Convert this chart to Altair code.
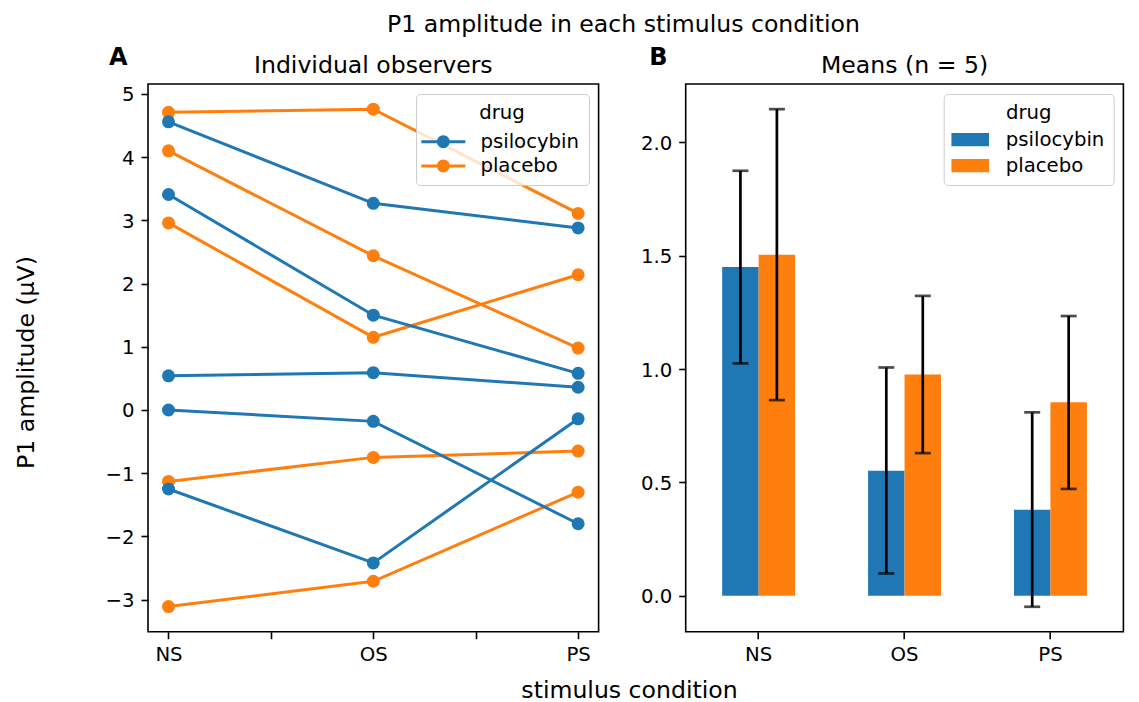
import altair as alt
import pandas as pd

# ---------------- data ----------------
conditions = ["NS", "OS", "PS"]
drugs = ["psilocybin", "placebo"]

psilocybin_obs = [
    [4.56, 3.27, 2.88],
    [3.41, 1.50, 0.58],
    [0.54, 0.59, 0.36],
    [0.00, -0.18, -1.80],
    [-1.25, -2.42, -0.14],
]
placebo_obs = [
    [4.71, 4.76, 3.11],
    [4.10, 2.44, 0.98],
    [2.96, 1.15, 2.14],
    [-1.13, -0.75, -0.65],
    [-3.11, -2.71, -1.30],
]

mean_psilocybin = [1.450, 0.551, 0.379]
mean_placebo = [1.504, 0.976, 0.853]
err_low_psilocybin = [1.025, 0.098, -0.049]
err_high_psilocybin = [1.875, 1.007, 0.809]
err_low_placebo = [0.863, 0.629, 0.471]
err_high_placebo = [2.147, 1.323, 1.234]

left_ticks = [0, 0.5, 1, 1.5, 2]
left_y_ticks = [-3, -2, -1, 0, 1, 2, 3, 4, 5]
right_y_ticks = [0.0, 0.5, 1.0, 1.5, 2.0]

# ---------------- tables ----------------
# placebo rows first so that psilocybin markers are drawn on top (as in the reference)
rows = []
for drug, obs in (("placebo", placebo_obs), ("psilocybin", psilocybin_obs)):
    for k, vals in enumerate(obs):
        for i, v in enumerate(vals):
            rows.append({"observer": f"{drug}_{k}", "drug": drug,
                         "cond": conditions[i], "pos": i, "amp": v})
ind_df = pd.DataFrame(rows)

brows = []
for drug, m, lo, hi in (("psilocybin", mean_psilocybin, err_low_psilocybin, err_high_psilocybin),
                        ("placebo", mean_placebo, err_low_placebo, err_high_placebo)):
    for i, c in enumerate(conditions):
        brows.append({"cond": c, "drug": drug, "mean": m[i], "lo": lo[i], "hi": hi[i]})
bar_df = pd.DataFrame(brows)

# ---------------- styling ----------------
W1, W2, H = 450.6, 437.7, 547.7
FT = 23.6   # 12pt
FL = 19.7   # 10pt
BLUE, ORANGE = "#1f77b4", "#ff7f0e"

axis_common = dict(grid=False, domain=False, tickSize=7, tickWidth=1.6, tickColor="black",
                   labelFontSize=FL, labelColor="black", labelFont="DejaVu Sans")

line_sym = ("M-1.26,-0.107L1.88,-0.107L1.88,0.107L-1.26,0.107Z "
            "M0.31,-0.46A0.46,0.46 0 1,1 0.31,0.46A0.46,0.46 0 1,1 0.31,-0.46Z")
rect_sym = "M-1.09,-0.475L1.6,-0.475L1.6,0.475L-1.09,0.475Z"

legend_common = dict(title="drug", orient="top-right", offset=10, padding=9,
                     strokeColor="#cccccc", cornerRadius=4, fillColor="rgba(255,255,255,0.8)",
                     titleFontSize=FL, titleFontWeight="normal", titleColor="black",
                     titleAnchor="middle", labelFontSize=FL, labelColor="black",
                     symbolSize=784, symbolStrokeWidth=0, symbolOpacity=1)

# ---------------- panel A ----------------
x_left = alt.X("pos:Q",
               scale=alt.Scale(domain=[-0.1, 2.1], nice=False, zero=False),
               axis=alt.Axis(values=left_ticks,
                             labelExpr="datum.value==0?'NS':datum.value==1?'OS':datum.value==2?'PS':''",
                             labelPadding=5.5,
                             title="stimulus condition", titleX=481, titleY=66,
                             titleBaseline="alphabetic", titleAlign="center",
                             titleFontSize=FT, titleFontWeight="normal", titleColor="black",
                             **axis_common))
y_left = alt.Y("amp:Q",
               scale=alt.Scale(domain=[-3.508, 5.158], nice=False, zero=False),
               axis=alt.Axis(values=left_y_ticks,
                             labelExpr="replace(datum.label, '-', '\u2212')",
                             labelPadding=7, labelOffset=1,
                             title="P1 amplitude (\u03bcV)", titleAngle=270,
                             titleBaseline="alphabetic", titleX=-114.8, titleY=278,
                             titleAlign="center", titleFontSize=FT,
                             titleFontWeight="normal", titleColor="black",
                             **axis_common))

color_a = alt.Scale(domain=drugs, range=[BLUE, ORANGE])
points = alt.Chart(ind_df).mark_circle(size=169, opacity=1).encode(
    x=x_left, y=y_left,
    color=alt.Color("drug:N", scale=color_a,
                    legend=alt.Legend(symbolType=line_sym, labelOffset=27.4,
                                      titlePadding=5, rowPadding=0.3, **legend_common)))
lines = alt.Chart(ind_df).mark_line(strokeWidth=3).encode(
    x=x_left, y=y_left,
    color=alt.Color("drug:N", scale=color_a),
    detail="observer:N", order="pos:Q")

letter_a = alt.Chart(pd.DataFrame({"t": ["A"]})).mark_text(
    align="left", baseline="alphabetic", fontSize=24, fontWeight="bold", color="black"
).encode(x=alt.value(-39), y=alt.value(-19.3), text="t:N")
title_a = alt.Chart(pd.DataFrame({"t": ["Individual observers"]})).mark_text(
    align="center", baseline="alphabetic", fontSize=FT, color="black"
).encode(x=alt.value(W1 / 2), y=alt.value(-11), text="t:N")

panel_a = alt.layer(points, lines, letter_a, title_a).properties(width=W1, height=H)

# ---------------- panel B ----------------
x_right = alt.X("cond:N", sort=conditions,
                scale=alt.Scale(paddingInner=0.5, paddingOuter=0.25),
                axis=alt.Axis(title=None, labelAngle=0, labelPadding=5.5, **axis_common))
x_off = alt.XOffset("drug:N", sort=drugs, scale=alt.Scale(domain=drugs))
y_scale_r = alt.Scale(domain=[-0.159, 2.258], nice=False, zero=False)
y_axis_r = alt.Axis(values=right_y_ticks, format=".1f", title=None,
                    labelPadding=7, labelOffset=1, **axis_common)

color_b = alt.Scale(domain=drugs, range=[BLUE, ORANGE])
bars = alt.Chart(bar_df).mark_bar().encode(
    x=x_right, xOffset=x_off,
    y=alt.Y("mean:Q", scale=y_scale_r, axis=y_axis_r),
    y2=alt.datum(0),
    color=alt.Color("drug:N", scale=color_b,
                    legend=alt.Legend(symbolType=rect_sym, labelOffset=25,
                                      titlePadding=3, rowPadding=2, **legend_common)))
rules = alt.Chart(bar_df).mark_rule(color="black", strokeWidth=2.7).encode(
    x=x_right, xOffset=x_off, y=alt.Y("lo:Q", scale=y_scale_r), y2="hi:Q")
caps_lo = alt.Chart(bar_df).mark_tick(color="black", thickness=2.7, size=16).encode(
    x=x_right, xOffset=x_off, y=alt.Y("lo:Q", scale=y_scale_r))
caps_hi = alt.Chart(bar_df).mark_tick(color="black", thickness=2.7, size=16).encode(
    x=x_right, xOffset=x_off, y=alt.Y("hi:Q", scale=y_scale_r))

letter_b = alt.Chart(pd.DataFrame({"t": ["B"]})).mark_text(
    align="left", baseline="alphabetic", fontSize=24, fontWeight="bold", color="black"
).encode(x=alt.value(-36.5), y=alt.value(-19.3), text="t:N")
title_b = alt.Chart(pd.DataFrame({"t": ["Means (n = 5)"]})).mark_text(
    align="center", baseline="alphabetic", fontSize=FT, color="black"
).encode(x=alt.value(W2 / 2), y=alt.value(-11), text="t:N")

panel_b = alt.layer(bars, rules, caps_lo, caps_hi, letter_b, title_b).properties(width=W2, height=H)

# ---------------- figure ----------------
chart = alt.hconcat(panel_a, panel_b, spacing=86.7, bounds="flush").resolve_scale(
    color="independent"
).resolve_legend(color="independent").properties(
    title=alt.TitleParams("P1 amplitude in each stimulus condition", fontSize=FT,
                          fontWeight="normal", color="black", anchor="start",
                          frame="group", dx=239, baseline="alphabetic", offset=-10.7),
    padding={"left": 5, "top": 5, "right": 5, "bottom": 0},
).configure(font="DejaVu Sans").configure_view(stroke="black", strokeWidth=1.6)

chart.save("out.html", embed_options={"renderer": "svg", "actions": False})
